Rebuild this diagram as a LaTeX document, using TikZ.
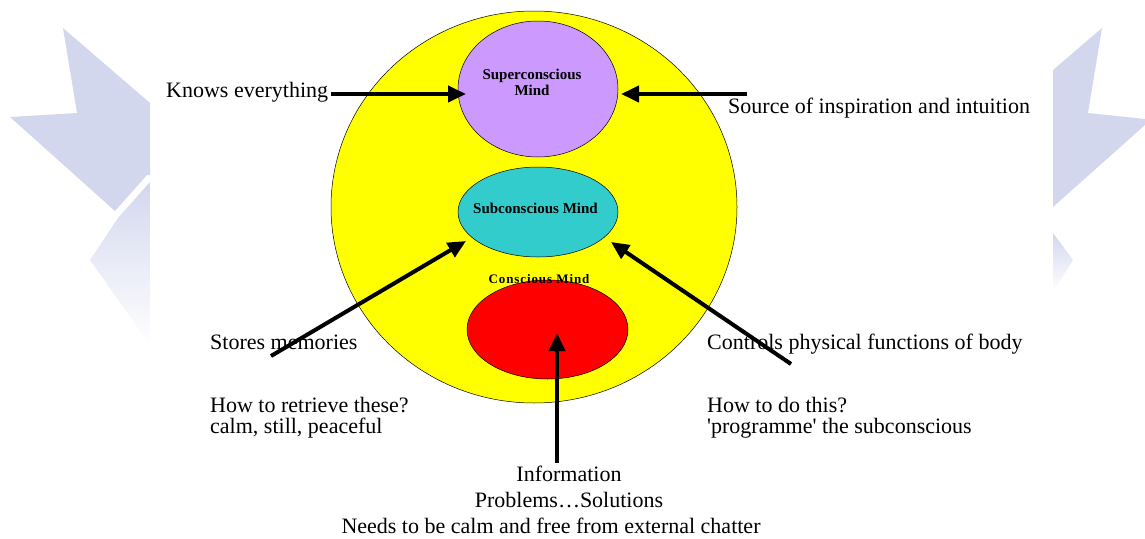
\documentclass[tikz,border=0pt]{standalone}
\usepackage{fontspec}
\setmainfont{Liberation Serif}
\newfontfamily\spacedserif[LetterSpace=7]{Liberation Serif}
\usetikzlibrary{shapes.geometric,arrows.meta}
\definecolor{wm}{RGB}{211,215,238}
\definecolor{superc}{RGB}{204,153,255}
\definecolor{subc}{RGB}{51,204,204}
\definecolor{outery}{RGB}{255,255,0}
\definecolor{consr}{RGB}{255,0,0}
\begin{document}
\begin{tikzpicture}[x=1pt,y=-1pt,
  lbl/.style={font=\fontsize{22}{21}\selectfont, inner sep=0, anchor=base west},
  clbl/.style={font=\fontsize{22}{21}\selectfont, inner sep=0, anchor=base},
  mindlbl/.style={font=\fontsize{15}{16}\selectfont\bfseries, inner sep=0, anchor=base},
  arr/.style={line width=4pt, -{Triangle[length=18pt,width=16pt]}},
  mind/.style={ellipse, draw, line width=0.5pt, inner sep=0}]
\useasboundingbox (0,0) rectangle (1145,538);
% watermark, left
\begin{scope}
\clip (0,0) rectangle (150,538);
\fill[wm] (63,28) -- (77,113) -- (10,117) -- (115,211) -- (147,175) -- (150,175) -- (150,103) -- cycle;
\shade[top color=wm, middle color=wm, bottom color=white] (150,182) -- (118,218) -- (90,260) -- (150,345) -- cycle;
\end{scope}
% watermark, right
\begin{scope}
\clip (1053,0) rectangle (1145,538);
\fill[wm] (1102,28) -- (1088,113) -- (1145,119) -- (1145,125) -- (1053,207) -- (1053,70) -- cycle;
\shade[top color=wm, middle color=wm, bottom color=white] (1053,233) -- (1073,260) -- (1053,292) -- cycle;
\end{scope}
% minds
\node[mind, fill=outery, minimum width=406pt, minimum height=392pt] (outer) at (534,207) {};
\node[mind, fill=superc, minimum width=160pt, minimum height=136pt] (super) at (538,89) {};
\node[mind, fill=subc, minimum width=160pt, minimum height=90pt] (sub) at (538,212) {};
\node[mind, fill=consr, minimum width=161pt, minimum height=99pt] (consc) at (547.5,329.5) {};
\node[mindlbl] (superl1) at (532,79) {Superconscious};
\node[mindlbl] (superl2) at (532,95) {Mind};
\node[mindlbl] (subl) at (535.5,213) {Subconscious Mind};
\node[font=\fontsize{13}{14}\selectfont\spacedserif\bfseries, inner sep=0, anchor=base] (conscl) at (539,283) {Conscious Mind};
% texts
\node[lbl] (knows) at (166,97) {Knows everything};
\node[lbl] (source) at (728,113) {Source of inspiration and intuition};
\node[lbl] (stores) at (210,349) {Stores memories};
\node[lbl] (controls) at (707,349) {Controls physical functions of body};
\node[lbl] (retr1) at (210,412) {How to retrieve these?};
\node[lbl] (retr2) at (210,433) {calm, still, peaceful};
\node[lbl] (how1) at (707,412) {How to do this?};
\node[lbl] (how2) at (707,433) {\textquotesingle programme\textquotesingle\ the subconscious};
\node[clbl] (info) at (569,481) {Information};
\node[clbl] (probs) at (569,507) {Problems\ldots Solutions};
\node[clbl] (needs) at (551,533) {Needs to be calm and free from external chatter};
% arrows
\coordinate (kt0) at (331,94);
\coordinate (kt1) at (466,94);
\coordinate (st0) at (747,94);
\coordinate (st1) at (621,94);
\coordinate (mt0) at (271,356);
\coordinate (mt1) at (466,241);
\coordinate (ct0) at (791,364);
\coordinate (ct1) at (611,242);
\coordinate (it0) at (557,463);
\coordinate (it1) at (557,333);
\draw[arr] (kt0) -- (kt1);
\draw[arr] (st0) -- (st1);
\draw[arr] (mt0) -- (mt1);
\draw[arr] (ct0) -- (ct1);
\draw[arr] (it0) -- (it1);
\end{tikzpicture}
\end{document}
